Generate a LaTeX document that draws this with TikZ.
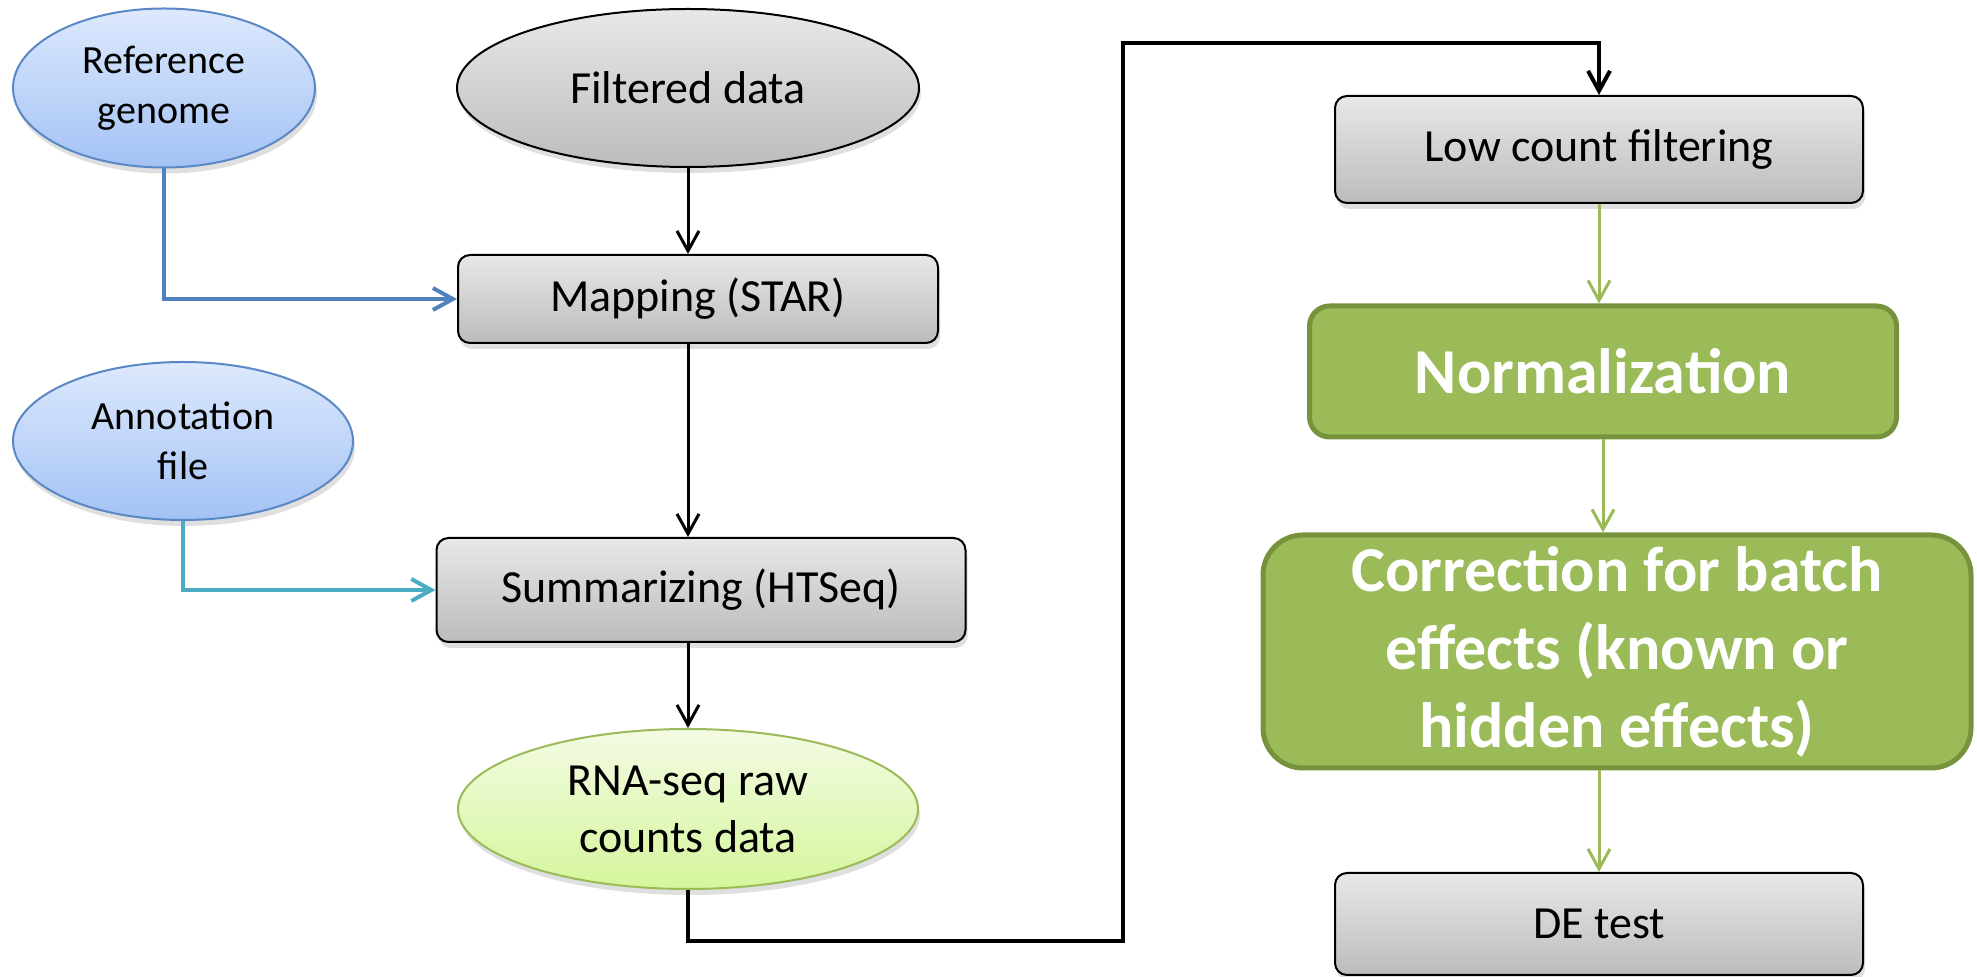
\documentclass[tikz,border=0pt]{standalone}
\usepackage{fontspec}
\setmainfont{Carlito}
\usetikzlibrary{shapes.geometric,arrows.meta,shadows}
\definecolor{gtop}{HTML}{E8E8E8}
\definecolor{gbot}{HTML}{BCBCBC}
\definecolor{btop}{HTML}{DDE9FD}
\definecolor{bbot}{HTML}{A3C2F5}
\definecolor{bedge}{HTML}{5A88C4}
\definecolor{refline}{HTML}{4F81BD}
\definecolor{annline}{HTML}{4BACC6}
\definecolor{ltop}{HTML}{F3FBE3}
\definecolor{lbot}{HTML}{D5F69C}
\definecolor{ledge}{HTML}{9BBB59}
\definecolor{gfill}{HTML}{9BBB59}
\definecolor{gedge}{HTML}{76923C}
\begin{document}
\begin{tikzpicture}[x=0.5pt,y=-0.5pt,
  every node/.style={inner sep=0pt, align=center},
  softshadow/.style={drop shadow={shadow xshift=1pt,shadow yshift=-3pt,opacity=0.25}},
  grayproc/.style={rectangle, rounded corners=6pt, draw=black, line width=1pt,
    top color=gtop, bottom color=gbot, softshadow, font=\fontsize{23}{28}\selectfont},
  blueell/.style={ellipse, draw=bedge, line width=1pt, top color=btop, bottom color=bbot,
    softshadow, font=\fontsize{20}{25}\selectfont},
  grayell/.style={ellipse, draw=black, line width=1pt, top color=gtop, bottom color=gbot,
    softshadow, font=\fontsize{23}{28}\selectfont},
  greenell/.style={ellipse, draw=ledge, line width=1pt, top color=ltop, bottom color=lbot,
    softshadow, font=\fontsize{23}{28.5}\selectfont},
  greenproc/.style={rectangle, draw=gedge, line width=2.5pt, fill=gfill, text=white,
    font=\bfseries\fontsize{32}{39}\selectfont},
  tipbarb/.style={-{Straight Barb[length=10pt,width=11pt]}},
  blk/.style={draw=black, line width=1.5pt, tipbarb},
  blkthick/.style={draw=black, line width=2pt, tipbarb},
  refconn/.style={draw=refline, line width=2pt, tipbarb},
  annconn/.style={draw=annline, line width=2pt, tipbarb},
  grn/.style={draw=gfill, line width=1.5pt, tipbarb}
]
\useasboundingbox (0,0) rectangle (1977,977);

\node[blueell, minimum width=151pt, minimum height=79.5pt] (ref) at (164,88) {Reference\\genome};
\node[grayell, minimum width=231pt, minimum height=79pt] (filt) at (688,88) {Filtered data};
\node[grayproc, minimum width=240pt, minimum height=44pt] (map) at (698,299) {Mapping (STAR)};
\node[blueell, minimum width=170pt, minimum height=79pt] (ann) at (183,441) {Annotation\\file};
\node[grayproc, minimum width=264.5pt, minimum height=52pt] (sum) at (701,590) {Summarizing (HTSeq)};
\node[greenell, minimum width=230pt, minimum height=80pt] (rna) at (688,809) {RNA-seq raw\\counts data};

\node[grayproc, minimum width=264pt, minimum height=53.5pt] (low) at (1599,149.5) {Low count filtering};
\node[greenproc, rounded corners=10pt, minimum width=293.5pt, minimum height=65.5pt] (norm) at (1603,371.5) {Normalization};
\node[greenproc, rounded corners=20pt, minimum width=354pt, minimum height=116.5pt] (corr) at (1617,651.5) {Correction for batch\\effects (known or\\hidden effects)};
\node[grayproc, minimum width=264pt, minimum height=51pt] (de) at (1599,924) {DE test};

\coordinate (c1) at (1123,941);
\coordinate (c2) at (1123,43);

\draw[blk] (filt.south) -- (filt.south |- map.north);
\draw[blk] (filt.south |- map.south) -- (filt.south |- sum.north);
\draw[blk] (filt.south |- sum.south) -- (rna.north);
\draw[blkthick] (rna.south) |- (c1) -- (c2) -| (low.north);

\draw[refconn] (ref.south) |- (map.west);
\draw[annconn] (ann.south) |- (sum.west);

\draw[grn] (low.south) -- (low.south |- norm.north);
\draw[grn] (norm.south) -- (norm.south |- corr.north);
\draw[grn] (low.south |- corr.south) -- (de.north);
\end{tikzpicture}
\end{document}
